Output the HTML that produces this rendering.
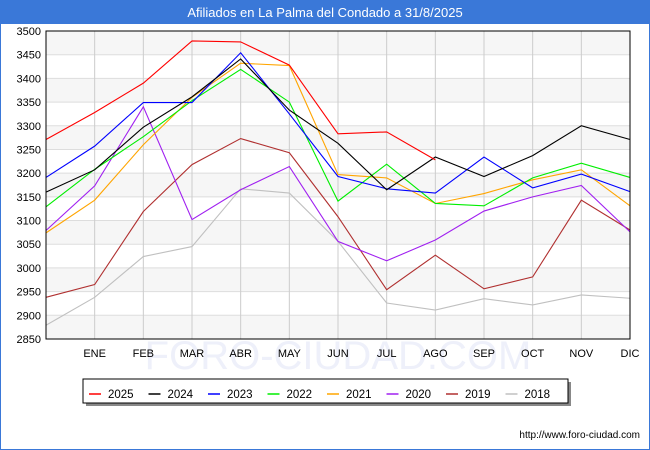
<!DOCTYPE html>
<html><head><meta charset="utf-8"><style>
body{margin:0;background:#fff;}
#wrap{position:relative;width:648px;height:448px;border:1px solid #3a78d8;background:#fff;overflow:hidden;font-family:"Liberation Sans",sans-serif;}
#title{position:absolute;left:0;top:0;width:648px;height:23px;background:#3a78d8;color:#fff;font-size:13px;text-align:center;line-height:23px;}
</style></head><body>
<div id="wrap">
<div id="title">Afiliados en La Palma del Condado a 31/8/2025</div>
<svg id="chart" width="648" height="448" style="position:absolute;left:0;top:0"></svg>
</div>
<script>
const months=["","ENE","FEB","MAR","ABR","MAY","JUN","JUL","AGO","SEP","OCT","NOV","DIC"];
const yTicks=[2850,2900,2950,3000,3050,3100,3150,3200,3250,3300,3350,3400,3450,3500];
const seriesNames=["2025","2024","2023","2022","2021","2020","2019","2018"];
const seriesColors=["#ff0000","#000000","#0000ff","#00ee00","#ffa500","#a020f0","#b03030","#c0c0c0"];
const s2025=[3271,3328,3390,3479,3477,3428,3283,3287,3228];
const s2024=[3160,3207,3297,3361,3441,3333,3263,3165,3234,3193,3237,3300,3271];
const s2023=[3191,3257,3349,3349,3454,3325,3193,3167,3158,3234,3169,3198,3161];
const s2022=[3129,3208,3277,3353,3419,3350,3141,3219,3136,3131,3190,3221,3191];
const s2021=[3074,3143,3260,3360,3432,3427,3197,3190,3136,3157,3186,3207,3131];
const s2020=[3079,3173,3340,3102,3165,3214,3056,3015,3059,3120,3150,3174,3076];
const s2019=[2938,2965,3119,3218,3273,3243,3108,2954,3027,2956,2981,3143,3080];
const s2018=[2879,2938,3024,3045,3167,3158,3056,2926,2911,2935,2922,2943,2936];
const allSeries=[s2025,s2024,s2023,s2022,s2021,s2020,s2019,s2018];

const NS="http://www.w3.org/2000/svg";
const svg=document.getElementById('chart');
const L=45,R=629,T=30,B=338,yMin=2850,yMax=3500;
const xS=i=>L+(R-L)*i/12;
const yS=v=>B-(B-T)*(v-yMin)/(yMax-yMin);
function mk(tag,attrs,parent){const e=document.createElementNS(NS,tag);for(const k in attrs)e.setAttribute(k,attrs[k]);(parent||svg).appendChild(e);return e;}
// bands
for(let i=0;i<yTicks.length-1;i++){
 if(i%2===0){const r=mk('rect',{x:L,y:yS(yTicks[i+1]),width:R-L,height:yS(yTicks[i])-yS(yTicks[i+1]),fill:'#f6f6f6'});
 
 }
}
// watermark
const wm=mk('text',{x:337,y:368,'text-anchor':'middle','font-size':40,fill:'#eef0fa','font-family':'Liberation Sans, sans-serif'});
wm.textContent='FORO-CIUDAD.COM';


yTicks.forEach(v=>{
 const g=mk('line',{x1:L,x2:R,y1:yS(v),y2:yS(v),stroke:'#dddddd','stroke-width':1});
 
 
 const t=mk('text',{x:40,y:yS(v)+4,'text-anchor':'end','font-size':11,fill:'#000'});
 t.textContent=v;
 
 
});
months.forEach((m,i)=>{
 if(i>0){const g=mk('line',{x1:xS(i),x2:xS(i),y1:T,y2:B,stroke:'#cccccc','stroke-width':1});
 
 
 const t=mk('text',{x:xS(i),y:356,'text-anchor':'middle','font-size':11,fill:'#000'});
 t.textContent=m;
 
 }
});
for(let s=allSeries.length-1;s>=0;s--){
 const pts=allSeries[s].map((v,i)=>xS(i)+','+yS(v)).join(' ');
 const p=mk('polyline',{points:pts,fill:'none',stroke:seriesColors[s],'stroke-width':1.1});
 
 
}
const ax=mk('rect',{x:L,y:T,width:R-L,height:B-T,fill:'none',stroke:'#000','stroke-width':1});


// legend
const lg=mk('g',{});


mk('rect',{x:85,y:381,width:485,height:24,fill:'#888'},lg);
mk('rect',{x:82,y:378,width:485,height:24,fill:'#fff',stroke:'#000','stroke-width':1},lg);
seriesNames.forEach((n,i)=>{
 const x=88+i*59.5;
 const ln=mk('line',{x1:x,x2:x+12,y1:393,y2:393,stroke:seriesColors[i],'stroke-width':1.5},lg);
 
 
 const t=mk('text',{x:x+19,y:397,'font-size':11.5,fill:'#000'},lg);
 t.textContent=n;
 
 
});
const ft=mk('text',{x:639,y:437,'text-anchor':'end','font-size':10,fill:'#000'});
ft.textContent='http://www.foro-ciudad.com';


</script>
</body></html>
